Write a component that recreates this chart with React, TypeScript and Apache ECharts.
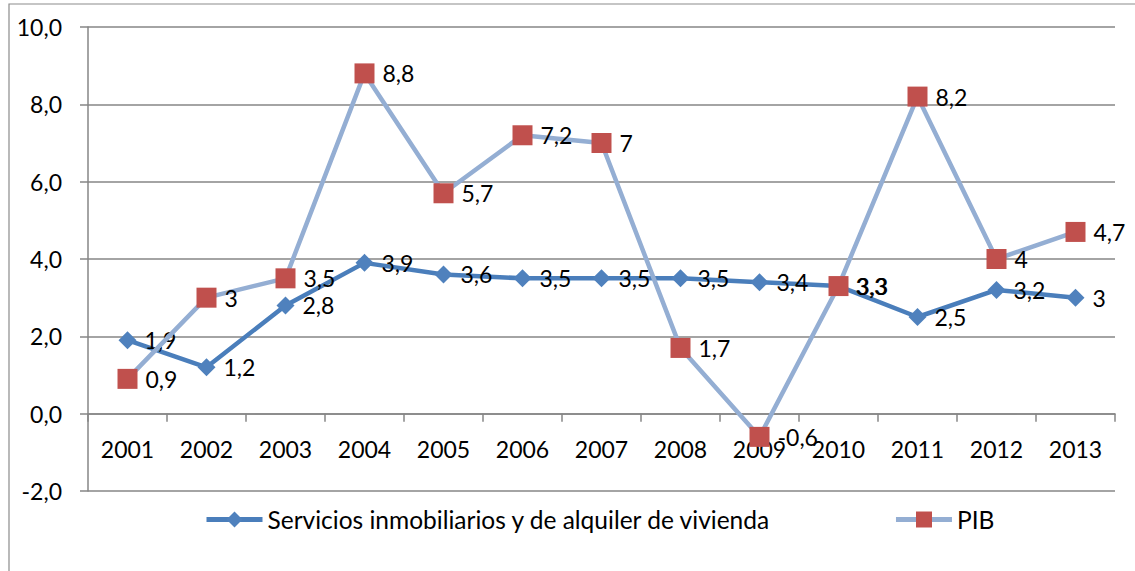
import React, { useEffect, useRef } from "react";
import * as echarts from "echarts";

const categories = ["2001", "2002", "2003", "2004", "2005", "2006", "2007", "2008", "2009", "2010", "2011", "2012", "2013"];
const servicios = [1.9, 1.2, 2.8, 3.9, 3.6, 3.5, 3.5, 3.5, 3.4, 3.3, 2.5, 3.2, 3];
const pib = [0.9, 3, 3.5, 8.8, 5.7, 7.2, 7, 1.7, -0.6, 3.3, 8.2, 4, 4.7];
const seriesNames = ["Servicios inmobiliarios y de alquiler de vivienda", "PIB"];

const FONT = "Lato";
const FS = 23;
const fmt = (v: number) => String(v).replace(".", ",");

export default function App() {
  const ref = useRef<HTMLDivElement>(null);
  useEffect(() => {
    if (!ref.current) return;
    const chart = echarts.init(ref.current, undefined, { renderer: "svg" });
    const labelStyle = {
      show: true,
      position: "right" as const,
      distance: 8,
      color: "#000",
      fontFamily: FONT,
      fontSize: FS,
      formatter: (p: any) => fmt(p.value),
    };
    chart.setOption({
      animation: false,
      textStyle: { fontFamily: FONT },
      graphic: [
        {
          type: "rect",
          shape: { x: 9, y: 4, width: 1140, height: 580 },
          style: { fill: "none", stroke: "#8c8c8c", lineWidth: 1.2 },
          silent: true,
        },
      ],
      grid: { left: 88, right: 20, top: 27, bottom: 80, containLabel: false },
      legend: {
        bottom: 34,
        left: 199,
        itemGap: 122,
        itemWidth: 56,
        itemHeight: 20,
        lineStyle: { width: 5 },
        textStyle: { fontFamily: FONT, fontSize: 24.5, color: "#000" },
        data: seriesNames,
      },
      xAxis: {
        type: "category",
        data: categories,
        boundaryGap: true,
        axisLine: { onZero: true, lineStyle: { color: "#868686", width: 1.5 } },
        axisTick: { show: true, length: 8, lineStyle: { color: "#868686", width: 1.5 } },
        axisLabel: { margin: -54, color: "#000", fontFamily: FONT, fontSize: FS },
      },
      yAxis: {
        type: "value",
        min: -2,
        max: 10,
        interval: 2,
        axisLine: { show: true, lineStyle: { color: "#868686", width: 1.5 } },
        axisTick: { show: true, length: 8, lineStyle: { color: "#868686", width: 1.5 } },
        splitLine: { show: true, lineStyle: { color: "#868686", width: 1.5 } },
        axisLabel: {
          margin: 26,
          color: "#000",
          fontFamily: FONT,
          fontSize: FS,
          formatter: (v: number) => v.toFixed(1).replace(".", ","),
        },
      },
      series: [
        {
          name: seriesNames[0],
          type: "line",
          data: servicios,
          symbol: "diamond",
          symbolSize: 18,
          lineStyle: { color: "#4a7ebb", width: 4.5 },
          itemStyle: { color: "#4f81bd" },
          label: labelStyle,
          z: 2,
        },
        {
          name: seriesNames[1],
          type: "line",
          data: pib,
          symbol: "rect",
          symbolSize: 20,
          lineStyle: { color: "#94aed3", width: 4.5 },
          itemStyle: { color: "#c0504d" },
          label: labelStyle,
          z: 3,
        },
      ],
    });
    return () => chart.dispose();
  }, []);
  return (
    <div
      ref={ref}
      style={{ position: "fixed", left: 0, top: 0, width: 1135, height: 571, background: "#fff" }}
    />
  );
}
